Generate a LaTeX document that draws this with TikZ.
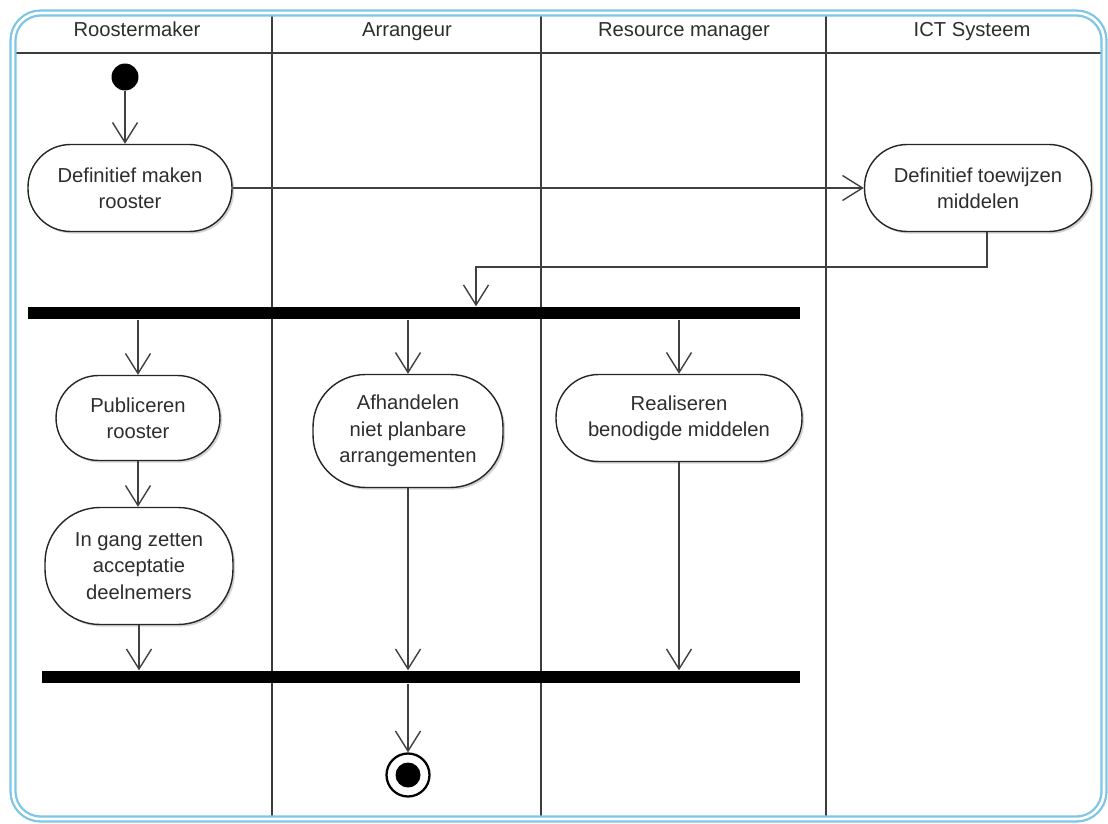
\documentclass[tikz,border=0pt]{standalone}
\usepackage{fontspec}
\setmainfont{Liberation Sans}
\usetikzlibrary{arrows.meta}
\usetikzlibrary{shadows}
\usetikzlibrary{positioning}
\definecolor{lanegray}{RGB}{60,60,60}
\definecolor{frameblue}{RGB}{125,198,228}
\definecolor{textgray}{RGB}{45,45,45}

\begin{document}
\begin{tikzpicture}[x=0.02cm, y=-0.02cm, line width=0.8pt,
  action/.style={draw=black!85, fill=white, rounded corners=0.85cm, align=center, inner sep=0pt,
    text=textgray, font=\fontsize{11.5}{15}\selectfont,
    drop shadow={shadow xshift=1.2pt, shadow yshift=-1.2pt, opacity=0.35}},
  header/.style={anchor=base, text=textgray, font=\fontsize{11.5}{14}\selectfont},
  bar/.style={fill=black, inner sep=0pt, minimum height=0.24cm},
  flow/.style={draw=black!75, -{Straight Barb[length=0.4cm, width=0.5cm]}},
  lane/.style={draw=lanegray, line width=1.1pt},
  frame/.style={draw=frameblue, line width=1.3pt, double=white, double distance=1.5pt, rounded corners=0.55cm}]

\useasboundingbox (0,0) rectangle (1108,824);

% swimlanes
\foreach \x in {272, 541, 826}
    \draw[lane] (\x,16) -- (\x,819);
\draw[lane] (16,53) -- (1104,53);
\draw[frame] (13,13) rectangle (1104,819);
\foreach \x/\name/\txt in {137/rm/Roostermaker, 407/ar/Arrangeur, 684/res/Resource manager, 972/ict/ICT Systeem}
    \node[header] (h\name) at (\x,37) {\txt};

% activities
\node[fill=black, circle, minimum size=0.54cm, inner sep=0pt] (start) at (125,77) {};
\node[action, minimum width=4.08cm, minimum height=1.74cm] (defmaken) at (130,188) {Definitief maken\\rooster};
\node[action, minimum width=4.54cm, minimum height=1.74cm] (ict) at (978,188) {Definitief toewijzen\\middelen};
\node[bar, minimum width=15.44cm] (fork) at (414,313) {};
\node[action, minimum width=3.28cm, minimum height=1.70cm] (pub) at (138,418) {Publiceren\\rooster};
\node[action, rounded corners=1.05cm, minimum width=3.8cm, minimum height=2.26cm] (afh) at (408,431) {Afhandelen\\niet planbare\\arrangementen};
\node[action, minimum width=4.92cm, minimum height=1.74cm] (real) at (679,418) {Realiseren\\benodigde middelen};
\node[action, rounded corners=1.1cm, minimum width=3.76cm, minimum height=2.34cm] (ingang) at (139,566) {In gang zetten\\acceptatie\\deelnemers};
\node[bar, minimum width=15.16cm] (join) at (421,677) {};
\node[circle, draw=black, line width=1.3pt, fill=white, minimum size=0.86cm, inner sep=0pt] (end) at (408,775) {};
\node[circle, fill=black, minimum size=0.5cm, inner sep=0pt] (endin) at (end) {};

% flows
\coordinate (bend) at (476,267);
\draw[flow] (start) -- (start |- defmaken.north);
\draw[flow] (defmaken.east) -- (ict.west);
\draw[flow] ([xshift=0.18cm]ict.south) |- (bend) -- (bend |- fork.north);
\foreach \n in {pub, afh, real}
    \draw[flow] (fork.south -| \n) -- (\n.north);
\draw[flow] (pub.south) -- (pub.south |- ingang.north);
\foreach \n in {ingang, afh, real}
    \draw[flow] (\n.south) -- (\n.south |- join.north);
\draw[flow] (join.south -| end) -- (end);
\end{tikzpicture}
\end{document}
